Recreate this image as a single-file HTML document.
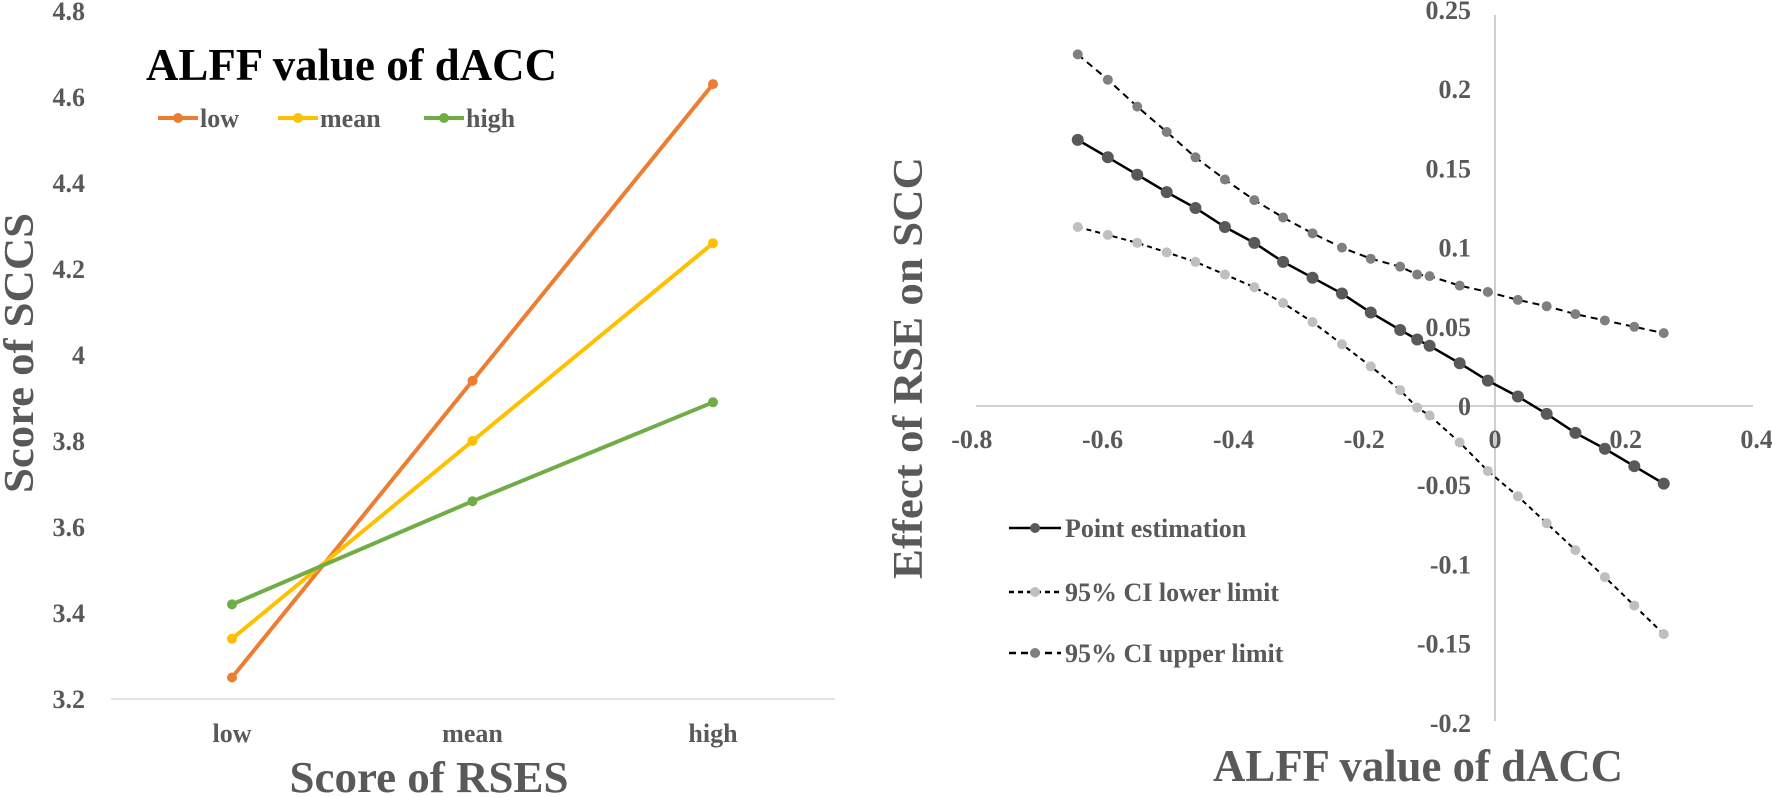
<!DOCTYPE html>
<html><head><meta charset="utf-8"><style>
html,body{margin:0;padding:0;background:#fff;}
svg{display:block;font-family:"Liberation Serif",serif;font-weight:bold;}
</style></head><body>
<svg id="chart" width="1772" height="797" viewBox="0 0 1772 797" xmlns="http://www.w3.org/2000/svg">
<g id="left"></g>
<g id="right"></g>
</svg>
<script>
// ----- Left chart data -----
const leftCategories = ["low", "mean", "high"];
const leftSeriesNames = ["low", "mean", "high"];
const leftLow = [3.25, 3.94, 4.63];
const leftMean = [3.34, 3.80, 4.26];
const leftHigh = [3.42, 3.66, 3.89];
const leftTicks = [3.2, 3.4, 3.6, 3.8, 4, 4.2, 4.4, 4.6, 4.8];

// ----- Right chart data -----
const rightX = [-0.638,-0.592,-0.547,-0.502,-0.458,-0.413,-0.368,-0.324,-0.279,-0.234,-0.19,-0.145,-0.119,-0.100,-0.054,-0.011,0.035,0.079,0.123,0.168,0.213,0.258];
const pointEst = [0.168,0.157,0.146,0.135,0.125,0.113,0.103,0.091,0.081,0.071,0.059,0.048,0.042,0.038,0.027,0.016,0.006,-0.005,-0.017,-0.027,-0.038,-0.049];
const ciUpper = [0.222,0.206,0.189,0.173,0.157,0.143,0.130,0.119,0.109,0.100,0.093,0.088,0.083,0.082,0.076,0.072,0.067,0.063,0.058,0.054,0.050,0.046];
const ciLower = [0.113,0.108,0.103,0.097,0.091,0.083,0.075,0.065,0.053,0.039,0.025,0.010,-0.001,-0.006,-0.023,-0.041,-0.057,-0.074,-0.091,-0.108,-0.126,-0.144];
const rightXTicks = [-0.8,-0.6,-0.4,-0.2,0,0.2,0.4];
const rightYTicks = [0.25,0.2,0.15,0.1,0.05,0,-0.05,-0.1,-0.15,-0.2];

const NS = "http://www.w3.org/2000/svg";
function mk(parent, tag, attrs, text) {
  const e = document.createElementNS(NS, tag);
  for (const k in attrs) e.setAttribute(k, attrs[k]);
  if (text !== undefined) e.textContent = text;
  parent.appendChild(e);
  return e;
}

// ===== LEFT =====
const L = document.getElementById("left");
const ly = v => 699 - (v - 3.2) / 0.2 * 86;
const lx = i => 232 + i * 240.5;
let ax = mk(L, "line", {x1:111, y1:699, x2:835, y2:699, stroke:"#d9d9d9", "stroke-width":1.5});


leftTicks.forEach(t => {
  const e = mk(L, "text", {x:85, y:ly(t)+9, "text-anchor":"end", "font-size":26, fill:"#595959"}, String(t));
  
  
});
leftCategories.forEach((c, i) => {
  const e = mk(L, "text", {x:lx(i), y:742, "text-anchor":"middle", "font-size":26, fill:"#595959"}, c);
  
  
});
const leftData = [leftLow, leftMean, leftHigh];
const leftColors = ["#ED7D31", "#FFC000", "#70AD47"];
leftData.forEach((s, k) => {
  const g = mk(L, "g", {});
  
  
  mk(g, "polyline", {points: s.map((v,i)=>lx(i)+","+ly(v)).join(" "), fill:"none", stroke:leftColors[k], "stroke-width":4});
  s.forEach((v, i) => {
    const c = mk(g, "circle", {cx:lx(i), cy:ly(v), r:5, fill:leftColors[k]});
    
    
  });
});
let t1 = mk(L, "text", {x:146, y:80, "font-size":46, fill:"#000", textLength:411, lengthAdjust:"spacingAndGlyphs"}, "ALFF value of dACC");


const legX = [158, 278, 424];
leftSeriesNames.forEach((n, k) => {
  const g = mk(L, "g", {});
  
  
  mk(g, "line", {x1:legX[k], y1:118, x2:legX[k]+40, y2:118, stroke:leftColors[k], "stroke-width":4});
  mk(g, "circle", {cx:legX[k]+20, cy:118, r:5, fill:leftColors[k]});
  mk(g, "text", {x:legX[k]+42, y:127, "font-size":26, fill:"#595959"}, n);
});
let xt = mk(L, "text", {x:429, y:792, "text-anchor":"middle", "font-size":44, fill:"#595959", textLength:279, lengthAdjust:"spacingAndGlyphs"}, "Score of RSES");


let yt = mk(L, "text", {x:0, y:0, transform:"translate(33,353) rotate(-90)", "text-anchor":"middle", "font-size":42, fill:"#595959", textLength:280, lengthAdjust:"spacingAndGlyphs"}, "Score of SCCS");



// ===== RIGHT =====
const R = document.getElementById("right");
const rx = v => 1495 + v / 0.2 * 130.8;
const ry = v => 406 - v / 0.05 * 79.2;
let hx = mk(R, "line", {x1:976, y1:ry(0), x2:1753, y2:ry(0), stroke:"#bfbfbf", "stroke-width":1.5});


let vy = mk(R, "line", {x1:rx(0), y1:15, x2:rx(0), y2:721, stroke:"#bfbfbf", "stroke-width":1.5});


rightXTicks.forEach(t => {
  const e = mk(R, "text", {x:rx(t), y:448, "text-anchor":"middle", "font-size":26, fill:"#595959"}, String(t));
  
  
});
rightYTicks.forEach(t => {
  const e = mk(R, "text", {x:1471, y:ry(t)+9, "text-anchor":"end", "font-size":26, fill:"#595959"}, String(t));
  
  
});
function series(name, vals, dash, color, r) {
  const g = mk(R, "g", {});
  
  
  const p = {points: rightX.map((x,i)=>rx(x)+","+ry(vals[i])).join(" "), fill:"none", stroke:"#000", "stroke-width":dash? 2 : 2.5};
  if (dash) p["stroke-dasharray"] = dash;
  mk(g, "polyline", p);
  vals.forEach((v, i) => {
    const c = mk(g, "circle", {cx:rx(rightX[i]), cy:ry(v), r:r, fill:color});
    
    
  });
}
series("ci-upper-series", ciUpper, "7,5", "#7f7f7f", 5);
series("ci-lower-series", ciLower, "5,4", "#bfbfbf", 5);
series("point-estimation-series", pointEst, null, "#595959", 6);

const legItems = [
  {label:"Point estimation", y:528, dash:null, color:"#595959"},
  {label:"95% CI lower limit", y:592, dash:"5,4", color:"#bfbfbf"},
  {label:"95% CI upper limit", y:653, dash:"7,5", color:"#7f7f7f"}
];
legItems.forEach(it => {
  const g = mk(R, "g", {});
  
  
  const la = {x1:1009, y1:it.y, x2:1061, y2:it.y, stroke:"#000", "stroke-width":2.5};
  if (it.dash) la["stroke-dasharray"] = it.dash;
  mk(g, "line", la);
  mk(g, "circle", {cx:1035, cy:it.y, r:5, fill:it.color});
  mk(g, "text", {x:1065, y:it.y+9, "font-size":26, fill:"#595959"}, it.label);
});
let rxt = mk(R, "text", {x:1418, y:781, "text-anchor":"middle", "font-size":46, fill:"#595959", textLength:410, lengthAdjust:"spacingAndGlyphs"}, "ALFF value of dACC");


let ryt = mk(R, "text", {x:0, y:0, transform:"translate(922,368) rotate(-90)", "text-anchor":"middle", "font-size":42, fill:"#595959", textLength:422, lengthAdjust:"spacingAndGlyphs"}, "Effect of RSE on SCC");


</script>
</body></html>
